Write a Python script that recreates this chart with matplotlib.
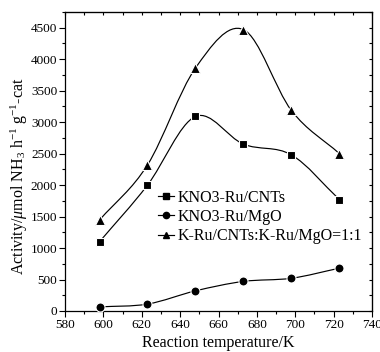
import numpy as np
import matplotlib
matplotlib.use("Agg")
import matplotlib.pyplot as plt
from matplotlib.path import Path
from matplotlib.patches import PathPatch
from matplotlib.ticker import MultipleLocator

plt.rcParams['font.family'] = ['Liberation Serif', 'DejaVu Serif']
plt.rcParams['mathtext.fontset'] = 'custom'
plt.rcParams['mathtext.rm'] = 'Liberation Serif'
plt.rcParams['mathtext.it'] = 'Liberation Serif:italic'

# Reaction temperatures (K)
temperature = [598, 623, 648, 673, 698, 723]

# Ammonia synthesis activity (umol NH3 h^-1 g^-1-cat)
ru_cnts = [1100, 2000, 3090, 2650, 2480, 1770]
ru_mgo = [65, 110, 320, 470, 520, 680]
ru_mixed = [1445, 2320, 3860, 4470, 3185, 2500]

labels = ["KNO3-Ru/CNTs", "KNO3-Ru/MgO", "K-Ru/CNTs:K-Ru/MgO=1:1"]
markers = ["s", "o", "^"]
msizes = [6, 6.5, 7]


def smooth_path(x, y):
    """Cubic Bezier path through the points (Catmull-Rom tangents)."""
    x = np.asarray(x, float)
    y = np.asarray(y, float)
    n = len(x)
    d = np.empty(n)
    d[1:-1] = (y[2:] - y[:-2]) / (x[2:] - x[:-2])
    d[0] = (y[1] - y[0]) / (x[1] - x[0])
    d[-1] = (y[-1] - y[-2]) / (x[-1] - x[-2])
    verts = [(x[0], y[0])]
    codes = [Path.MOVETO]
    for i in range(n - 1):
        h = (x[i + 1] - x[i]) / 3.0
        verts += [(x[i] + h, y[i] + d[i] * h),
                  (x[i + 1] - h, y[i + 1] - d[i + 1] * h),
                  (x[i + 1], y[i + 1])]
        codes += [Path.CURVE4] * 3
    return Path(verts, codes)


fig = plt.figure(figsize=(3.8, 3.52), dpi=100)
ax = fig.add_axes([0.171, 0.1165, 0.808, 0.8495])

for series, lab, mk, ms in zip([ru_cnts, ru_mgo, ru_mixed], labels, markers, msizes):
    ax.add_patch(PathPatch(smooth_path(temperature, series), facecolor='none',
                           edgecolor='black', lw=0.85, zorder=2))
    ax.plot(temperature, series, linestyle='none', marker=mk, ms=ms,
            color='black', mec='white', mew=0.8, zorder=3)
    # legend proxy: line with marker
    ax.plot([], [], '-', color='black', lw=0.85, marker=mk, ms=4.5,
            label=lab)

ax.set_xlim(580, 740)
ax.set_ylim(0, 4750)
ax.xaxis.set_major_locator(MultipleLocator(20))
ax.xaxis.set_minor_locator(MultipleLocator(10))
ax.yaxis.set_major_locator(MultipleLocator(500))
ax.yaxis.set_minor_locator(MultipleLocator(250))

ax.tick_params(which='both', direction='out', labelsize=9.5, pad=1.5,
               width=0.8, top=False, right=False)
ax.tick_params(which='major', length=4)
ax.tick_params(which='minor', length=2.5)

# short inward ticks on the top and right spines
secx = ax.secondary_xaxis('top')
secx.xaxis.set_major_locator(MultipleLocator(10))
secx.tick_params(direction='in', length=2, width=0.8, labeltop=False)
secy = ax.secondary_yaxis('right')
secy.yaxis.set_major_locator(MultipleLocator(250))
secy.tick_params(direction='in', length=2, width=0.8, labelright=False)

for sp in ax.spines.values():
    sp.set_linewidth(0.9)

ax.set_xlabel("Reaction temperature/K", fontsize=11.5, labelpad=3)
ax.set_ylabel(r"Activity/$\mu$mol NH$_3$ h$^{-1}$ g$^{-1}$-cat", fontsize=11.5)
ax.yaxis.set_label_coords(-0.115, 0.45)

ax.legend(loc='upper left', bbox_to_anchor=(0.303, 0.405), frameon=False,
          fontsize=11.5, handlelength=1.0, handletextpad=0.25,
          labelspacing=0.2, borderpad=0, borderaxespad=0)

fig.savefig("out.png", dpi=100)
